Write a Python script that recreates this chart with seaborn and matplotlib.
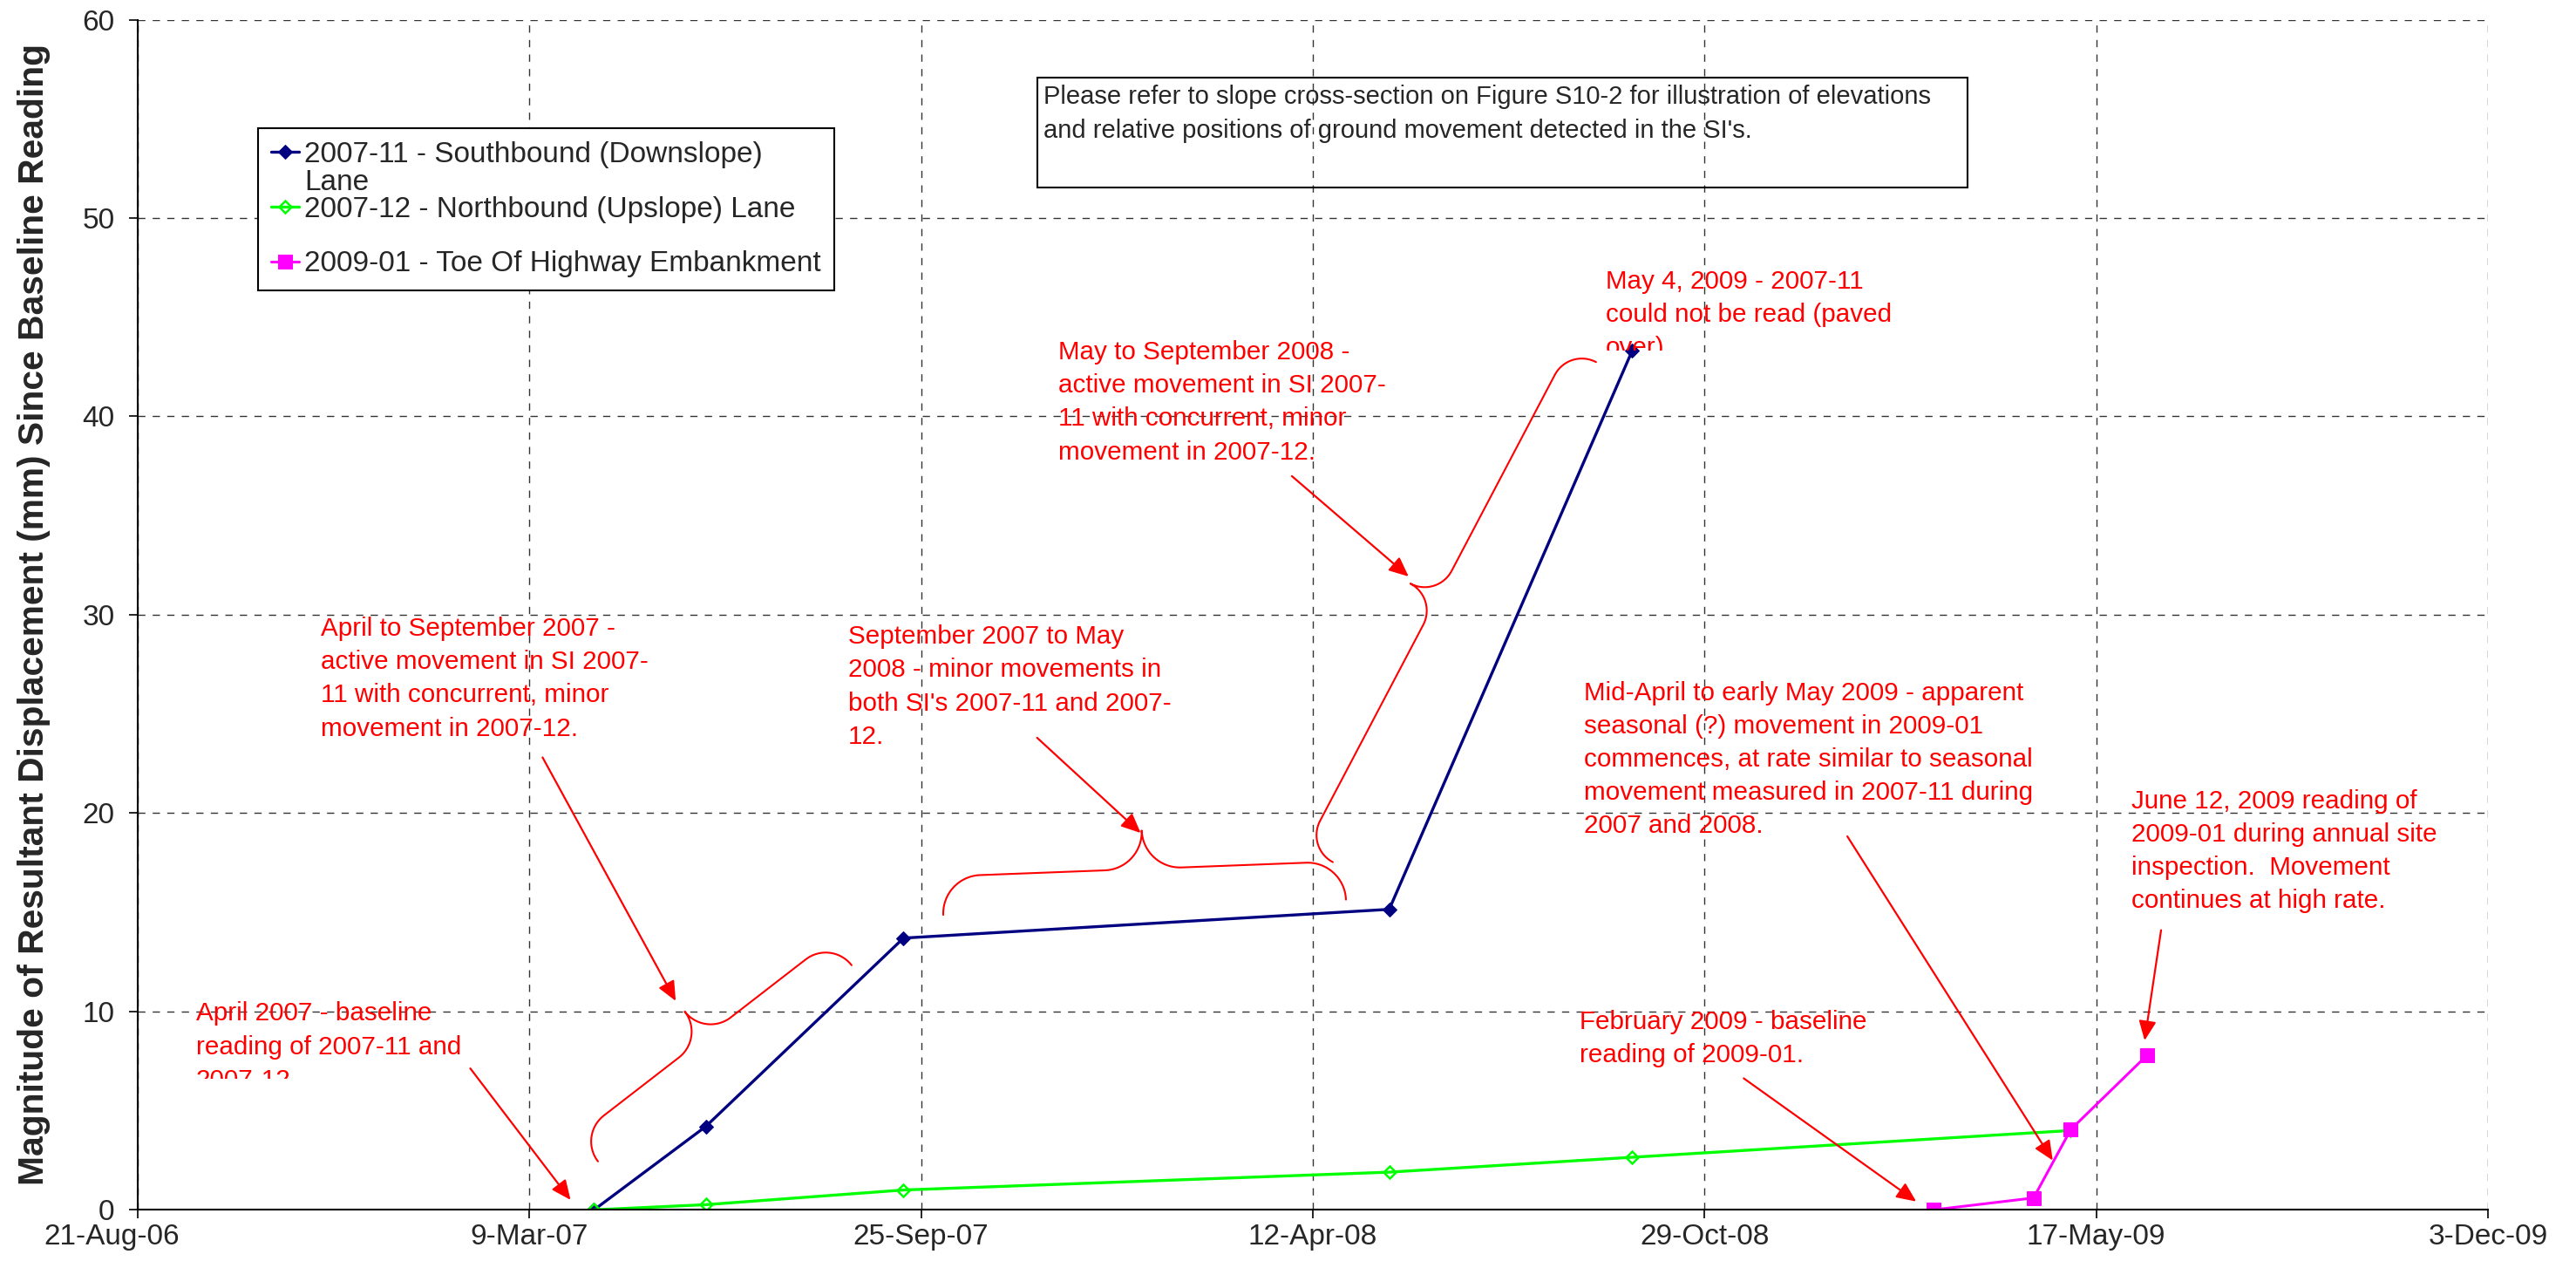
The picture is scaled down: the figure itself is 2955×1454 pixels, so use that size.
import matplotlib
matplotlib.use("Agg")
import matplotlib.pyplot as plt
import matplotlib.dates as mdates
import matplotlib.patches as mpatches
from matplotlib.transforms import Bbox, TransformedBbox, ScaledTranslation
import numpy as np
import pandas as pd
import seaborn as sns

# SI readings: date and resultant displacement since baseline (mm)
si_0711_dates = ["2007-04-11", "2007-06-07", "2007-09-16", "2008-05-21", "2008-09-22"]
si_0711_mm = [0.0, 4.2, 13.7, 15.15, 43.3]
si_0712_dates = ["2007-04-11", "2007-06-07", "2007-09-16", "2008-05-21", "2008-09-22", "2009-05-04"]
si_0712_mm = [0.0, 0.26, 1.0, 1.9, 2.65, 4.0]
si_0901_dates = ["2009-02-23", "2009-04-15", "2009-05-04", "2009-06-12"]
si_0901_mm = [0.0, 0.6, 4.05, 7.8]

# first label wraps onto a second line ("Lane") in the original legend
series_labels = ["2007-11 - Southbound (Downslope)",
                 "2007-12 - Northbound (Upslope) Lane",
                 "2009-01 - Toe Of Highway Embankment"]
label_wrap = "Lane"
tick_labels = ["21-Aug-06", "9-Mar-07", "25-Sep-07", "12-Apr-08", "29-Oct-08", "17-May-09", "3-Dec-09"]
y_ticks = [0, 10, 20, 30, 40, 50, 60]

note = ("Please refer to slope cross-section on Figure S10-2 for illustration of elevations\n"
        "and relative positions of ground movement detected in the SI's.")

# callouts: text, position (days after axis start, mm), clip level (mm) or None
callouts = [
    ("April 2007 - baseline\nreading of 2007-11 and\n2007-12", 29.7, 10.5, 6.6),
    ("April to September 2007 -\nactive movement in SI 2007-\n11 with concurrent, minor\nmovement in 2007-12.", 93.4, 29.9, None),
    ("September 2007 to May\n2008 - minor movements in\nboth SI's 2007-11 and 2007-\n12.", 362.8, 29.5, None),
    ("May to September 2008 -\nactive movement in SI 2007-\n11 with concurrent, minor\nmovement in 2007-12.", 470.2, 43.84, None),
    ("May 4, 2009 - 2007-11\ncould not be read (paved\nover)", 749.5, 47.4, 43.3),
    ("Mid-April to early May 2009 - apparent\nseasonal (?) movement in 2009-01\ncommences, at rate similar to seasonal\nmovement measured in 2007-11 during\n2007 and 2008.", 738.6, 26.67, None),
    ("June 12, 2009 reading of\n2009-01 during annual site\ninspection.  Movement\ncontinues at high rate.", 1018.0, 21.2, None),
    ("February 2009 - baseline\nreading of 2009-01.", 736.1, 10.08, None),
]
# arrows: tail (day, mm) -> head (day, mm)
arrows = [
    ((169.8, 7.13), (221.0, 0.5)),
    ((206.7, 22.81), (274.7, 10.53)),
    ((459.2, 23.8), (512.1, 19.0)),
    ((589.3, 36.99), (648.9, 31.93)),
    ((872.9, 18.83), (977.8, 2.49)),
    ((1033.1, 14.1), (1024.7, 8.54)),
    ((820.0, 6.63), (908.1, 0.42)),
]
# braces: end A (day, mm), end B (day, mm), depth in px
braces = [
    ((235.0, 2.44), (364.5, 12.33), 75),
    ((411.3, 14.87), (616.9, 15.64), 88),
    ((610.2, 17.53), (744.6, 42.74), 70),
]

sns.set_style("white")
plt.rcParams["font.family"] = ["Liberation Sans", "DejaVu Sans"]
narrow = ["Liberation Sans Narrow", "Liberation Sans", "DejaVu Sans"]

W, H = 2955, 1454
fig = plt.figure(figsize=(W / 100, H / 100), dpi=100)
ax = fig.add_axes([158 / W, 1 - 1387.3 / H, 2696 / W, 1364.7 / H])

sns.lineplot(x=pd.to_datetime(si_0711_dates), y=si_0711_mm, ax=ax, color="#000080",
             linewidth=2.4, marker="D", markersize=8, markeredgecolor="#000080",
             label=series_labels[0])
sns.lineplot(x=pd.to_datetime(si_0712_dates), y=si_0712_mm, ax=ax, color="#00FF00",
             linewidth=2.4, marker="D", markersize=7, markerfacecolor="none",
             markeredgecolor="#00FF00", markeredgewidth=1.8, label=series_labels[1])
sns.lineplot(x=pd.to_datetime(si_0901_dates), y=si_0901_mm, ax=ax, color="#FF00FF",
             linewidth=2.2, marker="s", markersize=11, markeredgecolor="#FF00FF",
             label=series_labels[2])

tick_dates = pd.to_datetime(tick_labels, format="%d-%b-%y")
ax.set_xlim(tick_dates[0], tick_dates[-1])
ax.set_ylim(0, 60)
ax.set_xticks(tick_dates)
ax.set_xticklabels(tick_labels, family=narrow, fontsize=24)
ax.set_yticks(y_ticks)
ax.set_yticklabels([str(v) for v in y_ticks], family=narrow, fontsize=24)
ax.tick_params(bottom=True, left=True, direction="out", length=7, width=1.2, color="black")
ax.tick_params(axis="y", pad=12)
ax.tick_params(axis="x", pad=4)
# first date label sits a little left of its tick, as in the original
first = ax.get_xticklabels()[0]
first.set_transform(first.get_transform() + ScaledTranslation(-0.3, 0, fig.dpi_scale_trans))

ax.grid(True, color="#333333", linestyle=(0, (6, 6)), linewidth=1.0)
ax.set_axisbelow(True)
for s in ["top", "right"]:
    ax.spines[s].set_visible(False)
for s in ["left", "bottom"]:
    ax.spines[s].set_color("black")
    ax.spines[s].set_linewidth(1.5)
ax.set_xlabel("")
ax.set_ylabel("Magnitude of Resultant Displacement (mm) Since Baseline Reading",
              fontsize=29.3, fontweight="bold")
ax.yaxis.set_label_coords(-0.037, 0.5)

leg = ax.legend(loc="upper left", bbox_to_anchor=(296 / W, 1 - 147 / H),
                bbox_transform=fig.transFigure, frameon=True, fancybox=False,
                edgecolor="black", framealpha=1, fontsize=24, handlelength=0.95,
                handletextpad=0.2, borderpad=0.45, labelspacing=0.95, borderaxespad=0)
leg.get_frame().set_linewidth(1.5)

# note box
fig.patches.append(mpatches.Rectangle((1190 / W, 1 - 215 / H), 1067 / W, 126 / H,
                                      transform=fig.transFigure, fill=False,
                                      edgecolor="black", linewidth=1.5))
fig.text(1197 / W, 1 - 97 / H, note, fontsize=21, va="top", ha="left", linespacing=1.5)

base = mdates.date2num(tick_dates[0])

for text, day, mm, clip in callouts:
    t = ax.text(base + day, mm, text, color="red", fontsize=21.3, va="top", ha="left",
                linespacing=1.46)
    if clip is not None:
        t.set_clip_box(TransformedBbox(Bbox([[-1, clip / 60], [2, 2]]), ax.transAxes))
        t.set_clip_on(True)

for (d0, m0), (d1, m1) in arrows:
    ax.annotate("", xy=(base + d1, m1), xytext=(base + d0, m0),
                arrowprops=dict(arrowstyle="-|>,head_length=0.85,head_width=0.38",
                                color="red", lw=1.6, mutation_scale=16,
                                shrinkA=0, shrinkB=0))


def brace_points(p0, p1, depth, n=30):
    p0 = np.asarray(p0, float)
    p1 = np.asarray(p1, float)
    d = p1 - p0
    L = np.hypot(*d)
    u = d / L
    v = np.array([-u[1], u[0]])
    r = depth / 2
    t = np.linspace(np.pi, np.pi / 2, n)
    seg1 = np.c_[r + r * np.cos(t), r * np.sin(t)]
    t = np.linspace(-np.pi / 2, 0, n)
    seg2 = np.c_[L / 2 - r + r * np.cos(t), 2 * r + r * np.sin(t)]
    half = np.vstack([seg1, seg2])
    other = np.c_[L - half[::-1, 0], half[::-1, 1]]
    pts = np.vstack([half, other])
    return p0 + pts[:, :1] * u + pts[:, 1:] * v


for (da, ma), (db, mb), depth in braces:
    pa = ax.transData.transform((base + da, ma))
    pb = ax.transData.transform((base + db, mb))
    pts = ax.transData.inverted().transform(brace_points(pa, pb, depth))
    ax.plot(pts[:, 0], pts[:, 1], color="red", lw=1.5, solid_capstyle="round")

# wrapped second line of the first legend label
fig.canvas.draw()
bb = leg.get_texts()[0].get_window_extent(fig.canvas.get_renderer())
fig.text(bb.x0 / W, ((bb.y0 + bb.y1) / 2 - 32) / H, label_wrap, fontsize=24,
         va="center", ha="left")

fig.savefig("out.png", dpi=100)
